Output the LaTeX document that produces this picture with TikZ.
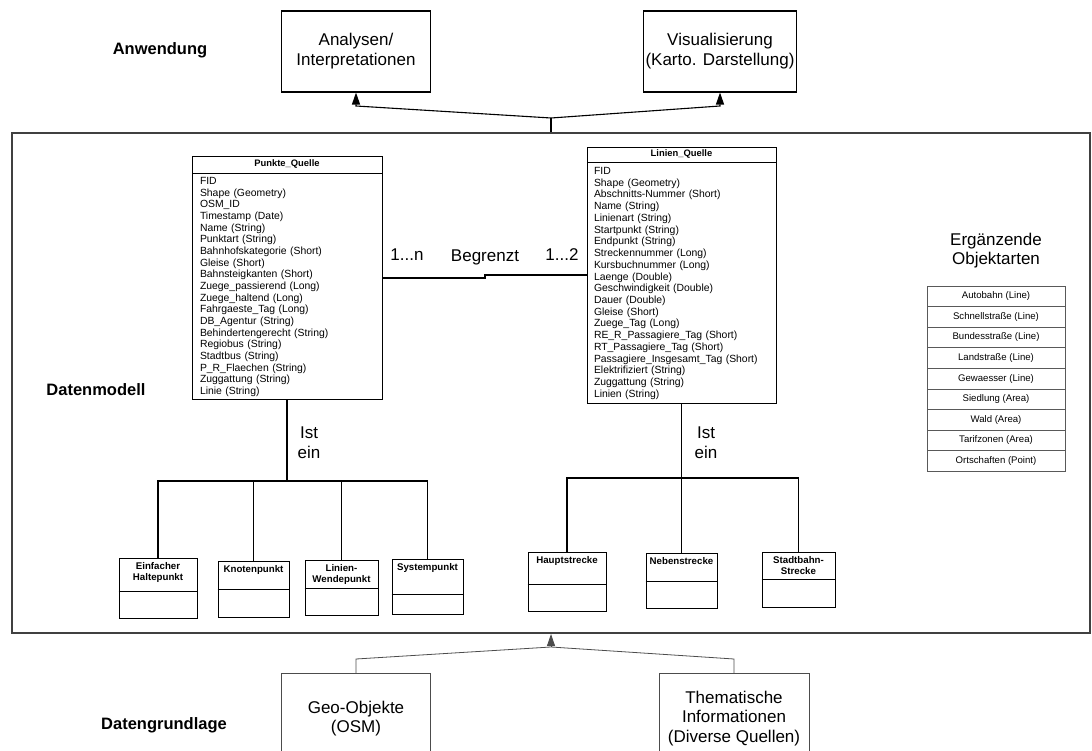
\documentclass[tikz,border=0pt]{standalone}
\usepackage{fontspec}
\setmainfont{Liberation Sans}
\usetikzlibrary{arrows.meta,positioning}

\tikzset{
  ebene/.style={draw, line width=1.1pt, minimum width=149, minimum height=81, align=center, inner sep=2pt, font=\fontsize{17}{20}\selectfont},
  quelle/.style={draw=black!70, line width=0.8pt, minimum width=149, minimum height=90, align=center, inner sep=2pt, font=\fontsize{17}{19.5}\selectfont},
  titel/.style={font=\fontsize{16.5}{20}\selectfont\bfseries},
  beschriftung/.style={align=center, inner sep=0pt, font=\fontsize{17}{20.5}\selectfont},
  kopf/.style={draw, line width=0.9pt, inner sep=0pt, font=\fontsize{9.4}{11}\selectfont\bfseries},
  attribute/.style={draw, line width=0.9pt, align=left, inner ysep=3pt, anchor=north},
  unterklasse/.style={draw, line width=0.9pt, inner sep=0pt},
  unterkopf/.style={anchor=north, align=center, inner xsep=0pt, inner ysep=4.5pt, font=\fontsize{9.7}{11}\selectfont\bfseries},
  zeile/.style={draw=black!65, line width=0.7pt, minimum width=138, minimum height=20.6, inner sep=0pt, font=\fontsize{9.6}{11}\selectfont},
  rahmen/.style={draw=black!75, line width=2pt},
  verbinder/.style={line width=1.1pt},
  duenn/.style={draw=black!70, line width=0.8pt},
  pfeil/.style={-{Triangle[width=8pt,length=12pt]}}
}

\begin{document}
\begin{tikzpicture}[x=1pt, y=-1pt]
\useasboundingbox (0,0) rectangle (1092,751);

\node[titel] (anwendung) at (160,50) {Anwendung};
\node[titel] (datenmodell) at (96,390) {Datenmodell};
\node[titel] (datengrundlage) at (164,725) {Datengrundlage};

\node[ebene] (analysen) at (356,51.5) {Analysen/\\Interpretationen};
\node[ebene] (visualisierung) at (720,51.5) {Visualisierung\\(Karto. Darstellung)};

\node[rahmen, minimum width=1078, minimum height=500] (datenmodellRahmen) at (551,383) {};

\coordinate (oben) at (datenmodellRahmen.north |- 0,118);
\draw[verbinder] (datenmodellRahmen.north) -- (oben);
\draw[verbinder, pfeil] (oben) -- (analysen.south |- 0,106) -- (analysen.south);
\draw[verbinder, pfeil] (oben) -- (visualisierung.south |- 0,106) -- (visualisierung.south);

\node[quelle, anchor=north] (geo) at (356,673) {Geo-Objekte\\(OSM)};
\node[quelle, anchor=north, minimum width=150] (thematisch) at (734,673) {Thematische\\Informationen\\(Diverse Quellen)};

\coordinate (unten) at (datenmodellRahmen.south |- 0,647);
\draw[duenn, pfeil] (unten) -- (datenmodellRahmen.south);
\draw[duenn] (geo.north) -- (geo.north |- 0,659) -- (unten);
\draw[duenn] (thematisch.north) -- (thematisch.north |- 0,659) -- (unten);

\node[kopf, minimum width=190, minimum height=17] (punkteKopf) at (287,164.5) {Punkte\_Quelle};
\node[attribute, inner xsep=8pt, text width=174, minimum height=226, font=\fontsize{10.4}{11.67}\selectfont, below=0pt of punkteKopf] (punkte) {FID\\Shape (Geometry)\\OSM\_ID\\Timestamp (Date)\\Name (String)\\Punktart (String)\\Bahnhofskategorie (Short)\\Gleise (Short)\\Bahnsteigkanten (Short)\\Zuege\_passierend (Long)\\Zuege\_haltend (Long)\\Fahrgaeste\_Tag (Long)\\DB\_Agentur (String)\\Behindertengerecht (String)\\Regiobus (String)\\Stadtbus (String)\\P\_R\_Flaechen (String)\\Zuggattung (String)\\Linie (String)};

\node[kopf, minimum width=189, minimum height=15] (linienKopf) at (681.5,154.5) {Linien\_Quelle};
\node[attribute, inner xsep=7pt, text width=175, minimum height=241, font=\fontsize{10.4}{11.74}\selectfont, below=0pt of linienKopf] (linien) {FID\\Shape (Geometry)\\Abschnitts-Nummer (Short)\\Name (String)\\Linienart (String)\\Startpunkt (String)\\Endpunkt (String)\\Streckennummer (Long)\\Kursbuchnummer (Long)\\Laenge (Double)\\Geschwindigkeit (Double)\\Dauer (Double)\\Gleise (Short)\\Zuege\_Tag (Long)\\RE\_R\_Passagiere\_Tag (Short)\\RT\_Passagiere\_Tag (Short)\\Passagiere\_Insgesamt\_Tag (Short)\\Elektrifiziert (String)\\Zuggattung (String)\\Linien (String)};

\draw[verbinder] (punkte.east |- 0,278) -- (485,278) -- (485,275) -- (linien.west |- 0,275);
\node[beschriftung] (kardinalP) at (407,255) {1...n};
\node[beschriftung] (begrenzt) at (485,257) {Begrenzt};
\node[beschriftung] (kardinalL) at (562,255) {1...2};

\node[beschriftung] (istEinP) at (309,442.5) {Ist\\ein};
\node[beschriftung] (istEinL) at (706,442.5) {Ist\\ein};

\node[unterklasse, minimum width=78, minimum height=60] (halte) at (158,588) {};
\node[unterkopf] (halteText) at (halte.north) {Einfacher\\Haltepunkt};
\draw[line width=0.9pt] (halte.west |- 0,591) -- (halte.east |- 0,591);

\node[unterklasse, minimum width=71, minimum height=56] (knoten) at (253.5,589) {};
\node[unterkopf] (knotenText) at (knoten.north) {Knotenpunkt};
\draw[line width=0.9pt] (knoten.west |- 0,589) -- (knoten.east |- 0,589);

\node[unterklasse, minimum width=73, minimum height=55] (wende) at (341.5,587.5) {};
\node[unterkopf] (wendeText) at (wende.north) {Linien-\\Wendepunkt};
\draw[line width=0.9pt] (wende.west |- 0,588) -- (wende.east |- 0,588);

\node[unterklasse, minimum width=71, minimum height=55] (system) at (427.5,586.5) {};
\node[unterkopf] (systemText) at (system.north) {Systempunkt};
\draw[line width=0.9pt] (system.west |- 0,594) -- (system.east |- 0,594);

\node[unterklasse, minimum width=78, minimum height=59] (haupt) at (567,581.5) {};
\node[unterkopf] (hauptText) at (haupt.north) {Hauptstrecke};
\draw[line width=0.9pt] (haupt.west |- 0,584) -- (haupt.east |- 0,584);

\node[unterklasse, minimum width=71, minimum height=55] (neben) at (681.5,580.5) {};
\node[unterkopf] (nebenText) at (neben.north) {Nebenstrecke};
\draw[line width=0.9pt] (neben.west |- 0,581) -- (neben.east |- 0,581);

\node[unterklasse, minimum width=73, minimum height=55] (stadtbahn) at (798.5,579.5) {};
\node[unterkopf] (stadtbahnText) at (stadtbahn.north) {Stadtbahn-\\Strecke};
\draw[line width=0.9pt] (stadtbahn.west |- 0,579) -- (stadtbahn.east |- 0,579);

\draw[verbinder] (punkte.south) -- (punkte.south |- 0,481);
\draw[verbinder] (halte.north) |- (system.north |- 0,481) -- (system.north);
\draw[verbinder] (knoten.north) -- (knoten.north |- 0,481);
\draw[verbinder] (wende.north) -- (wende.north |- 0,481);

\draw[verbinder] (linien.south) -- (linien.south |- 0,478);
\draw[verbinder] (haupt.north) |- (stadtbahn.north |- 0,478) -- (stadtbahn.north);
\draw[verbinder] (neben.north) -- (neben.north |- 0,478);

\node[beschriftung, font=\fontsize{17}{19}\selectfont] (ergaenzend) at (996,250.5) {Ergänzende\\Objektarten};
\foreach \objekt [count=\i] in {Autobahn (Line), Schnellstraße (Line), Bundesstraße (Line), Landstraße (Line), Gewaesser (Line), Siedlung (Area), Wald (Area), Tarifzonen (Area), Ortschaften (Point)}
  \node[zeile] (objekt\i) at (996,275.7+20.6*\i) {\objekt};
\end{tikzpicture}
\end{document}
